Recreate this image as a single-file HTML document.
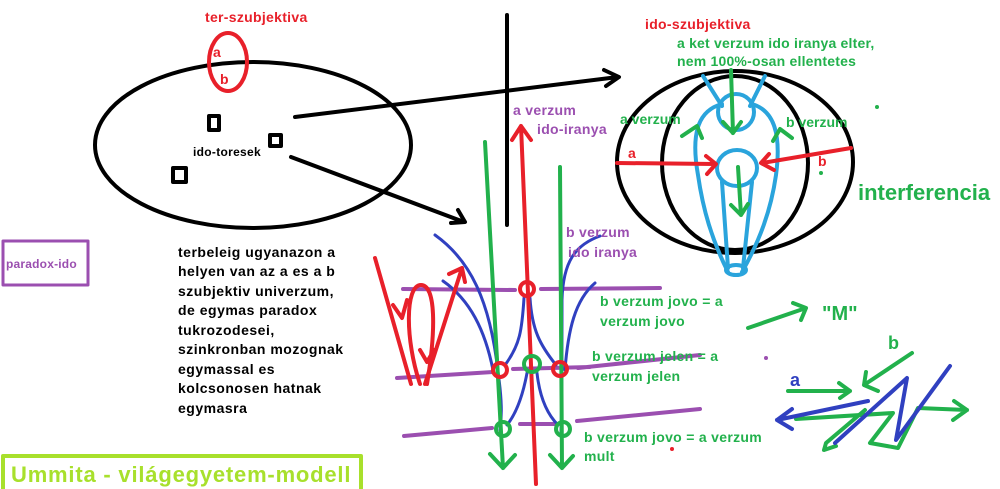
<!DOCTYPE html>
<html><head><meta charset="utf-8"><style>
html,body{margin:0;padding:0;background:#fff;}
svg{display:block;font-family:"Liberation Sans",sans-serif;font-weight:bold;}
</style></head><body>
<svg width="1000" height="489" viewBox="0 0 1000 489" xmlns="http://www.w3.org/2000/svg" fill="none" stroke-linecap="round" stroke-linejoin="round">
<!-- left ellipse -->
<ellipse cx="253" cy="145" rx="158" ry="83" stroke="#000" stroke-width="4"/>
<ellipse cx="228" cy="62" rx="19" ry="29" stroke="#e8202a" stroke-width="4"/>
<text x="205" y="22" fill="#e8202a" stroke="none" font-size="14" letter-spacing="0.3">ter-szubjektiva</text>
<text x="213" y="57" fill="#e8202a" stroke="none" font-size="14">a</text>
<text x="220" y="84" fill="#e8202a" stroke="none" font-size="14">b</text>
<rect x="209" y="116" width="10" height="14" stroke="#000" stroke-width="4"/>
<rect x="270" y="135" width="11" height="11" stroke="#000" stroke-width="4"/>
<rect x="173" y="168" width="13" height="14" stroke="#000" stroke-width="4"/>
<text x="193" y="156" fill="#000" stroke="none" font-size="12" letter-spacing="0.3">ido-toresek</text>
<!-- black connectors -->
<path d="M295 117 L618 77 M604 70 L619 77 L606 86" stroke="#000" stroke-width="4"/>
<path d="M291 157 L464 222 M458 210 L465 222 L451 223" stroke="#000" stroke-width="4"/>
<path d="M507 15 L507 225" stroke="#000" stroke-width="4"/>
<!-- paragraph -->
<g fill="#000" stroke="none" font-size="14" letter-spacing="0.5">
<text x="178" y="257">terbeleig ugyanazon a</text>
<text x="178" y="276">helyen van az a es a b</text>
<text x="178" y="296">szubjektiv univerzum,</text>
<text x="178" y="315">de egymas paradox</text>
<text x="178" y="335">tukrozodesei,</text>
<text x="178" y="354">szinkronban mozognak</text>
<text x="178" y="374">egymassal es</text>
<text x="178" y="393">kolcsonosen hatnak</text>
<text x="178" y="413">egymasra</text>
</g>
<rect x="3" y="241" width="85" height="44" stroke="#9b4fb0" stroke-width="3"/>
<text x="6" y="268" fill="#9b4fb0" stroke="none" font-size="12" letter-spacing="0.2">paradox-ido</text>
<rect x="3" y="456" width="358" height="40" stroke="#a8e02c" stroke-width="4"/>
<text x="11" y="482" fill="#a8e02c" stroke="none" font-size="22" letter-spacing="0.8">Ummita - világegyetem-modell</text>
<!-- middle diagram -->
<g stroke="#9b4fb0" stroke-width="4">
<path d="M403 289 L515 290 M541 289 L660 288"/>
<path d="M397 378 L493 372 M513 369 L590 367 M578 368 L700 355"/>
<path d="M404 436 L492 428 M520 424 L556 424 M577 421 L700 409"/>
</g>
<g stroke="#3040c0" stroke-width="3">
<path d="M435 235 C470 260 490 300 498 372 C502 400 502 415 500 430"/>
<path d="M443 281 C470 300 485 330 493 370"/>
<path d="M600 236 C575 245 563 262 562 300 C562 340 562 400 561 432"/>
<path d="M595 283 C575 300 568 330 565 370"/>
<path d="M524 298 C522 330 520 345 505 365"/>
<path d="M530 298 C532 330 540 345 556 365"/>
<path d="M527 373 C522 400 515 415 507 425"/>
<path d="M537 373 C540 400 548 415 558 425"/>
</g>
<g stroke="#22b14c" stroke-width="4">
<path d="M485 142 L503 468 M490 454 L503 468 L515 455"/>
<path d="M560 167 L562 468 M550 455 L562 468 L573 456"/>
</g>
<g stroke="#e8202a" stroke-width="4">
<path d="M536 484 L521 126 M512 140 L521 126 L531 140"/>
<path d="M375 258 L411 384 M393 305 L402 318 L407 300"/>
<path d="M420 384 C405 340 405 285 421 285 C436 285 436 330 427 384 M420 350 L427 362 L434 350"/>
<path d="M425 384 L462 268 M449 274 L462 268 L465 282"/>
</g>
<g stroke-width="4">
<circle cx="527" cy="289" r="7" stroke="#e8202a"/>
<circle cx="500" cy="370" r="7" stroke="#e8202a"/>
<circle cx="560" cy="369" r="7" stroke="#e8202a"/>
<circle cx="532" cy="364" r="8" stroke="#22b14c"/>
<circle cx="503" cy="429" r="7" stroke="#22b14c"/>
<circle cx="563" cy="429" r="7" stroke="#22b14c"/>
</g>
<g fill="#9b4fb0" stroke="none" font-size="14" letter-spacing="0.3">
<text x="513" y="115">a verzum</text>
<text x="537" y="134">ido-iranya</text>
<text x="566" y="237">b verzum</text>
<text x="568" y="257">ido iranya</text>
</g>
<g fill="#22b14c" stroke="none" font-size="14" letter-spacing="0.3">
<text x="600" y="306">b verzum jovo = a</text>
<text x="600" y="326">verzum jovo</text>
<text x="592" y="361">b verzum jelen = a</text>
<text x="592" y="381">verzum jelen</text>
<text x="584" y="442">b verzum jovo = a verzum</text>
<text x="584" y="461">mult</text>
</g>
<!-- right diagram -->
<ellipse cx="735" cy="162" rx="118" ry="91" stroke="#000" stroke-width="4"/>
<ellipse cx="735" cy="163" rx="73" ry="87" stroke="#000" stroke-width="4"/>
<text x="645" y="29" fill="#e8202a" stroke="none" font-size="14" letter-spacing="0.3">ido-szubjektiva</text>
<text x="677" y="48" fill="#22b14c" stroke="none" font-size="14" letter-spacing="0.2">a ket verzum ido iranya elter,</text>
<text x="677" y="66" fill="#22b14c" stroke="none" font-size="14" letter-spacing="0.2">nem 100%-osan ellentetes</text>
<g stroke="#2aa4dc" stroke-width="4">
<path d="M703 76 L722 106 M765 76 L750 106"/>
<circle cx="736" cy="112" r="18"/>
<path d="M722 104 C700 110 690 130 698 175 C703 210 712 240 728 272"/>
<path d="M752 104 C772 110 782 130 776 175 C771 210 760 240 742 272"/>
<ellipse cx="737" cy="168" rx="20" ry="18"/>
<path d="M722 182 L728 268 M752 182 L743 268"/>
<ellipse cx="736" cy="270" rx="10" ry="5"/>
</g>
<g stroke="#22b14c" stroke-width="4">
<path d="M731 70 L733 133 M723 122 L733 133 L741 122"/>
<path d="M738 167 L741 215 M731 205 L741 215 L748 204"/>
<path d="M682 136 L697 126 L702 138"/>
<path d="M773 141 L780 129 L792 138"/>
</g>
<g stroke="#e8202a" stroke-width="4">
<path d="M617 163 L715 164 M706 156 L716 164 L707 174"/>
<path d="M851 148 L762 163 M769 154 L761 163 L774 170"/>
</g>
<text x="628" y="158" fill="#e8202a" stroke="none" font-size="14">a</text>
<text x="818" y="166" fill="#e8202a" stroke="none" font-size="14">b</text>
<text x="620" y="124" fill="#22b14c" stroke="none" font-size="14">a verzum</text>
<text x="786" y="127" fill="#22b14c" stroke="none" font-size="14">b verzum</text>
<text x="858" y="200" fill="#22b14c" stroke="none" font-size="22">interferencia</text>
<circle cx="877" cy="107" r="2" fill="#22b14c" stroke="none"/>
<circle cx="821" cy="173" r="2" fill="#22b14c" stroke="none"/>
<!-- bottom right -->
<g stroke="#22b14c" stroke-width="4">
<path d="M748 328 L806 308 M793 303 L806 308 L801 320"/>
<path d="M912 353 L864 385 M866 372 L864 385 L878 391"/>
<path d="M788 391 L850 391 M839 383 L850 391 L840 398"/>
<path d="M796 419 L893 413 L870 443 L898 448 L918 408 L967 410 M954 401 L967 410 L953 420"/>
<path d="M865 410 L826 443 L824 450 L836 446"/>
</g>
<text x="822" y="320" fill="#22b14c" stroke="none" font-size="20">"M"</text>
<text x="888" y="349" fill="#22b14c" stroke="none" font-size="18">b</text>
<text x="790" y="386" fill="#3040c0" stroke="none" font-size="18">a</text>
<g stroke="#3040c0" stroke-width="4">
<path d="M868 401 L777 420 M792 409 L777 420 L792 429"/>
<path d="M835 443 L907 378 L896 440 L950 366"/>
</g>
<circle cx="766" cy="358" r="2" fill="#9b4fb0" stroke="none"/>
<circle cx="672" cy="449" r="2" fill="#e8202a" stroke="none"/>
</svg>
</body></html>
